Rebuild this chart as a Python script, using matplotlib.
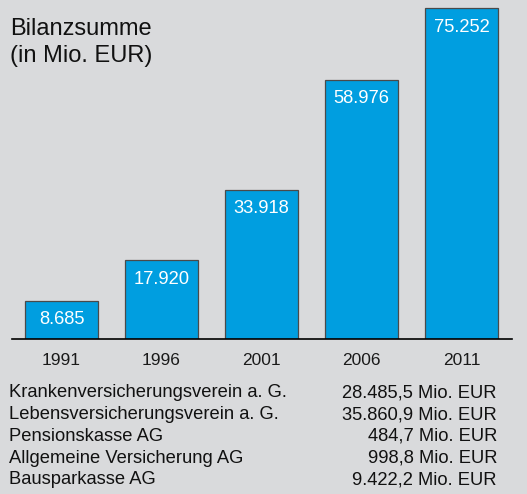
import matplotlib.pyplot as plt

# Data
years = ['1991', '1996', '2001', '2006', '2011']
bilanz = [8.685, 17.920, 33.918, 58.976, 75.252]
bar_labels = ['8.685', '17.920', '33.918', '58.976', '75.252']
companies = ['Krankenversicherungsverein a. G.',
             'Lebensversicherungsverein a. G.',
             'Pensionskasse AG',
             'Allgemeine Versicherung AG',
             'Bausparkasse AG']
company_values = ['28.485,5 Mio. EUR', '35.860,9 Mio. EUR', '484,7 Mio. EUR',
                  '998,8 Mio. EUR', '9.422,2 Mio. EUR']

bg = '#d9dadc'
blue = '#009ee0'
plt.rcParams['font.family'] = ['Liberation Sans', 'DejaVu Sans']

W, H = 527, 494
fig = plt.figure(figsize=(W / 100, H / 100), dpi=100, facecolor=bg)


def ptext(x, y, s, **kw):
    # x from left, y (baseline) from top, in pixels
    fig.text(x / W, 1 - y / H, s, va='baseline', **kw)


# axes: x 12..512 px, y 0..339 px from top
ax = fig.add_axes([12 / W, (H - 339) / H, 500 / W, 339 / H])
ax.set_facecolor('none')
ax.bar(range(len(years)), bilanz, width=0.73, color=blue,
       edgecolor='#4a4a4a', linewidth=0.9, zorder=2)
ax.set_xlim(-0.495, 4.505)
ax.set_ylim(0, 75.252 * 339 / 331)
for s in ['top', 'right', 'left']:
    ax.spines[s].set_visible(False)
ax.spines['bottom'].set_linewidth(1.2)
ax.spines['bottom'].set_zorder(3)
ax.set_yticks([])
ax.set_xticks(range(len(years)))
ax.set_xticklabels(years, fontsize=12.5, color='#1a1a1a')
ax.tick_params(axis='x', length=0, pad=10)

for i, (v, lab) in enumerate(zip(bilanz, bar_labels)):
    ax.annotate(lab, (i, v), xytext=(0, -17), textcoords='offset points',
                ha='center', va='baseline', color='white', fontsize=13.2)

# title
ptext(10, 35, 'Bilanzsumme', fontsize=17, color='#111111')
ptext(10, 62, '(in Mio. EUR)', fontsize=17, color='#111111')

# table
for k, (c, v) in enumerate(zip(companies, company_values)):
    y = 397.3 + k * 21.75
    ptext(9, y, c, fontsize=13.2, color='#111111')
    ptext(497, y, v, fontsize=13.2, color='#111111', ha='right')

fig.savefig('out.png', dpi=100, facecolor=bg)
